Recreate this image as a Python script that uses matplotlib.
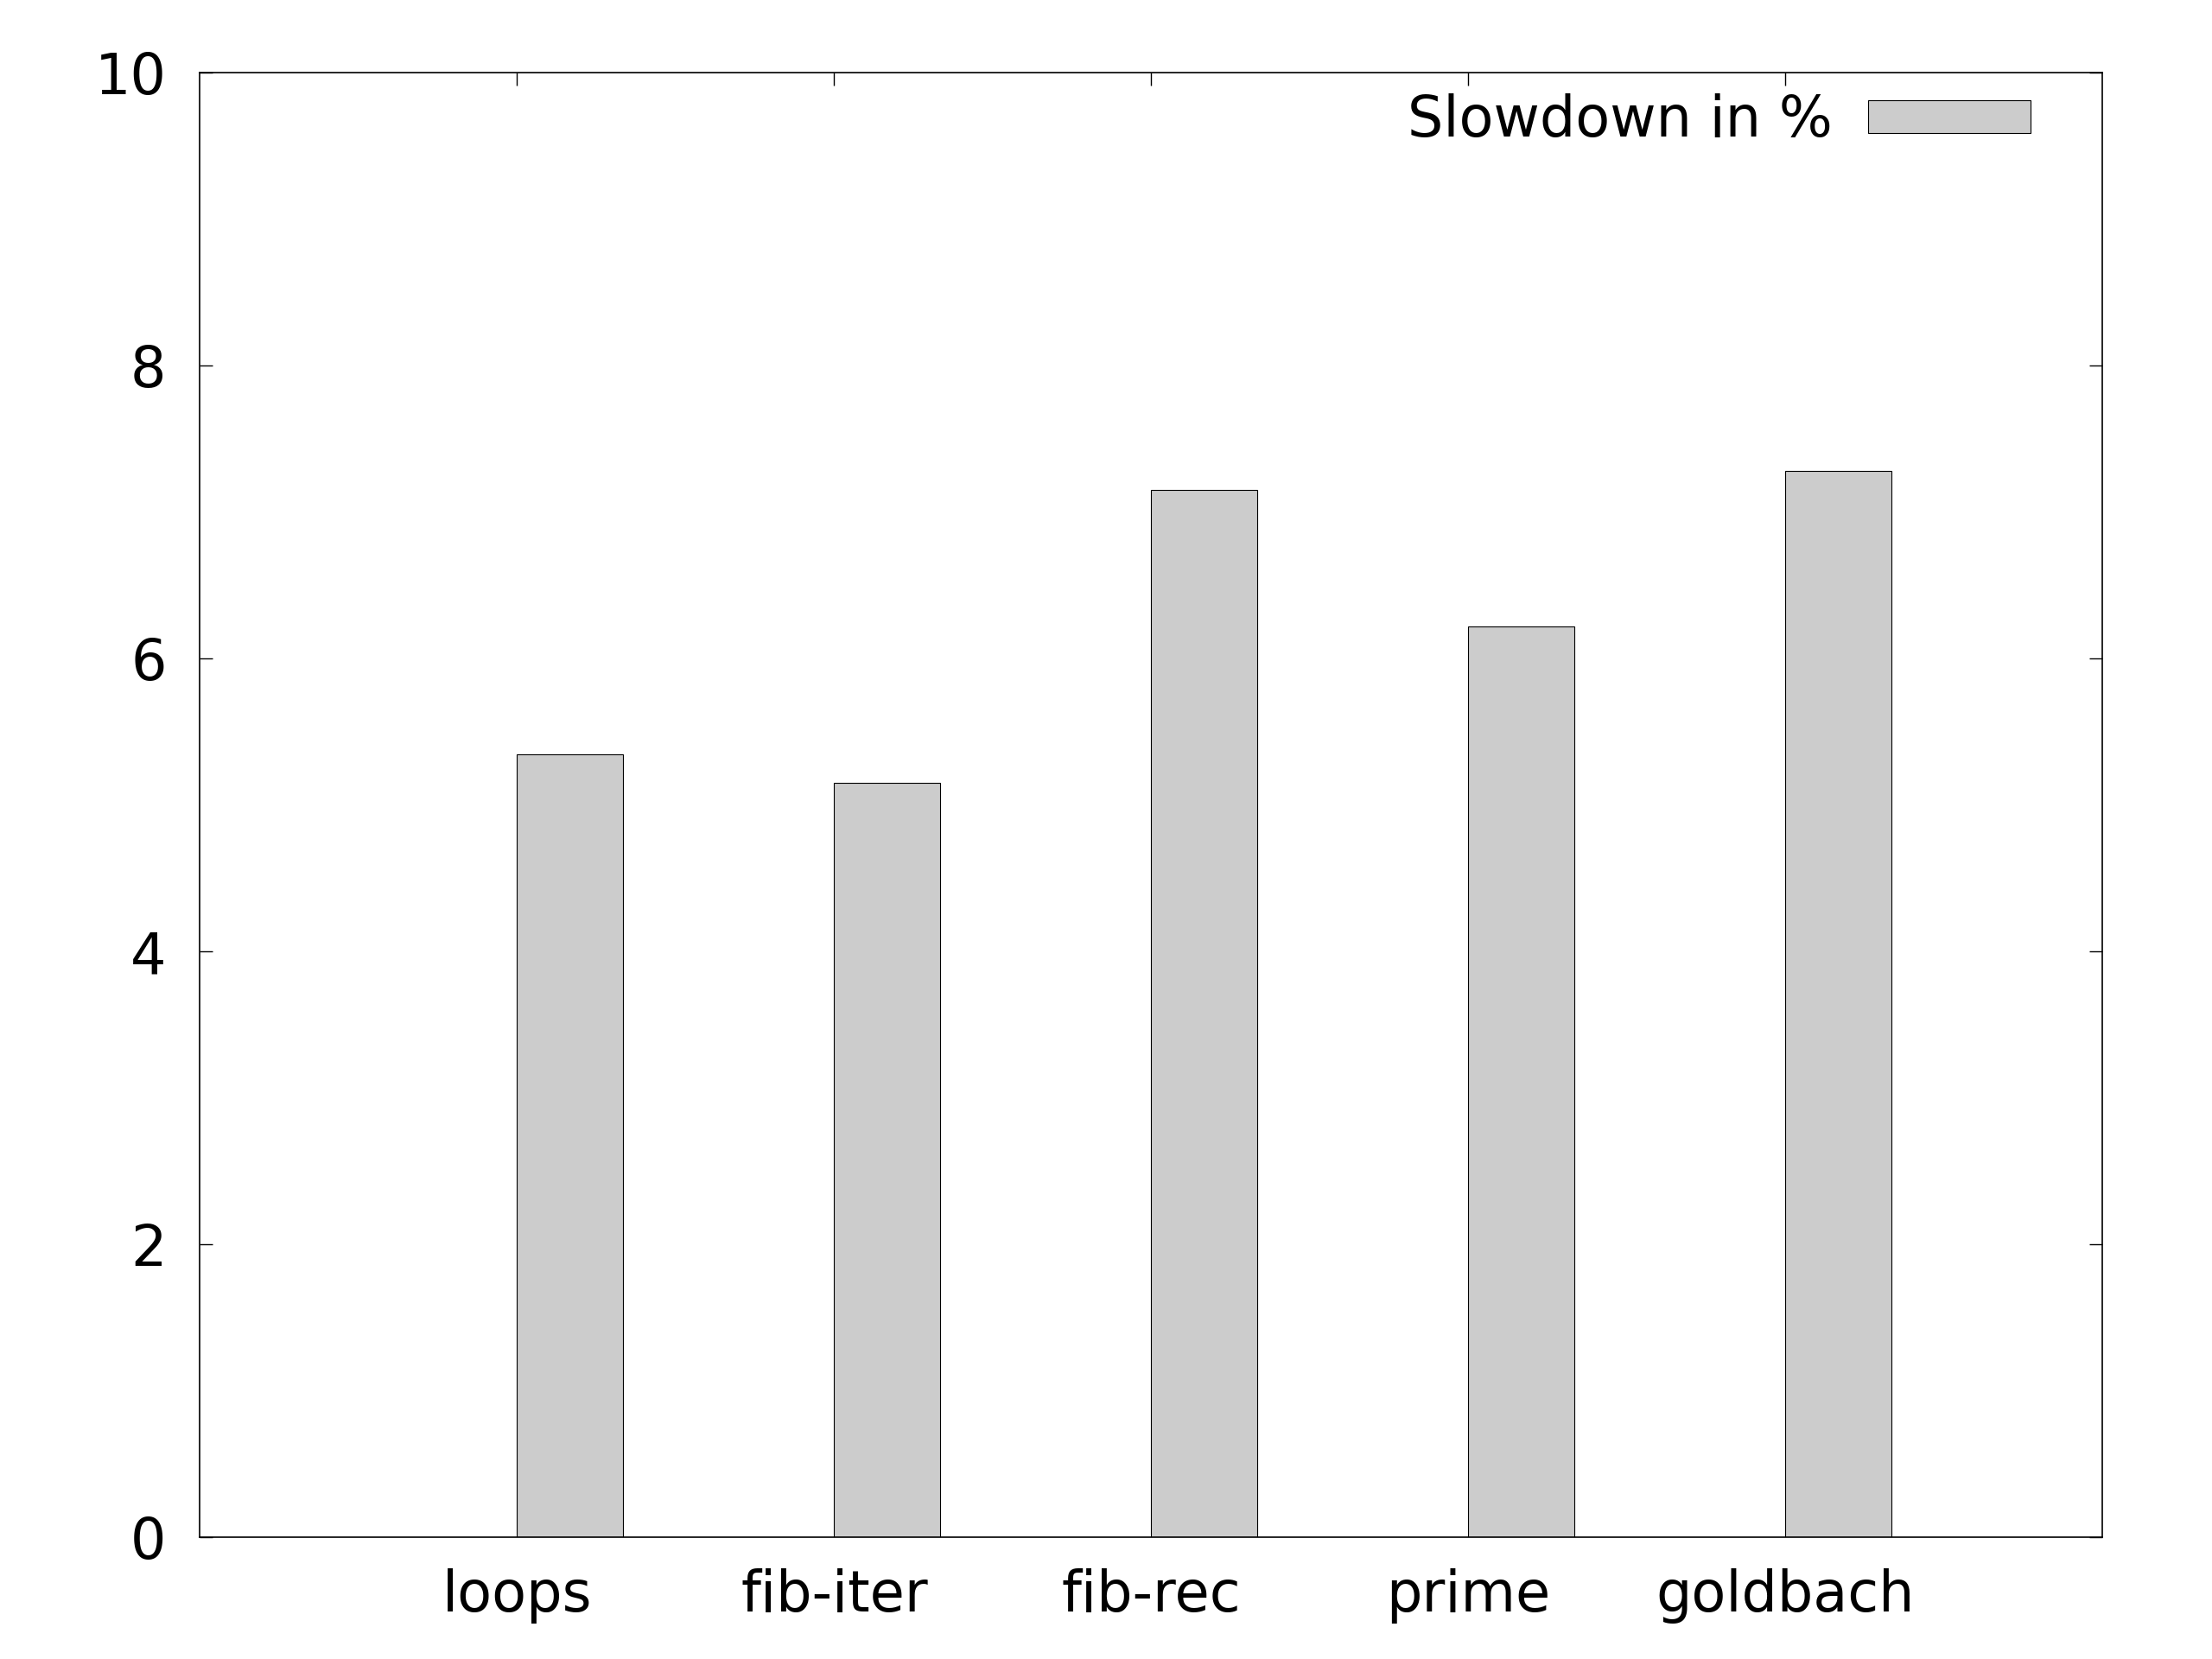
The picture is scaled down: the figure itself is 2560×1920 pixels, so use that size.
import matplotlib
matplotlib.use('Agg')
import matplotlib.pyplot as plt
import numpy as np

# Dados
benchmarks = ['loops', 'fib-iter', 'fib-rec', 'prime', 'goldbach']
slowdown = [5.35, 5.15, 7.15, 6.22, 7.28]
yticks = [0, 2, 4, 6, 8, 10]

plt.rcParams['font.family'] = 'DejaVu Sans'
fig = plt.figure(figsize=(12.8, 9.6), dpi=200)
ax = fig.add_axes([0.0904, 0.0733, 0.9505 - 0.0904, 0.956 - 0.0733])

x = np.arange(len(benchmarks))
ax.bar(x, slowdown, width=1/3, align='edge', color='#cccccc',
       edgecolor='black', linewidth=0.4, label='Slowdown in %')

ax.set_xlim(-1, 5)
ax.set_ylim(0, 10)
ax.set_xticks(x)
ax.set_xticklabels(benchmarks)
ax.set_yticks(yticks)

ax.tick_params(direction='in', length=5.5, width=0.5, labelsize=23.5,
               top=True, right=True, pad=14)
ax.tick_params(axis='x', bottom=False, pad=13)
for s in ax.spines.values():
    s.set_linewidth(0.6)

ax.legend(loc='upper right', bbox_to_anchor=(0.962, 0.986), frameon=False,
          markerfirst=False, fontsize=23.5, handlelength=2.88,
          handleheight=0.5, handletextpad=0.63, borderpad=0,
          borderaxespad=0)

fig.savefig('out.png', dpi=200)
